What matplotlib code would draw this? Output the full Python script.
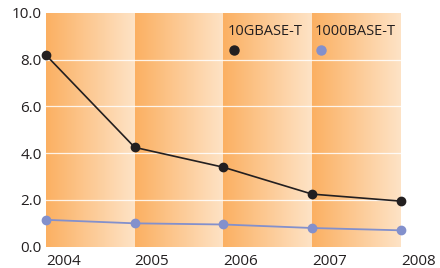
import matplotlib.pyplot as plt
import numpy as np
from matplotlib.colors import LinearSegmentedColormap

years = [2004, 2005, 2006, 2007, 2008]
ten_g = [8.2, 4.25, 3.4, 2.25, 1.95]
one_g = [1.15, 1.0, 0.95, 0.8, 0.7]
y_ticks = [0.0, 2.0, 4.0, 6.0, 8.0, 10.0]

plt.rcParams['font.family'] = ['Open Sans', 'DejaVu Sans']
text_color = "#231f20"

fig = plt.figure(figsize=(4.4, 2.68), dpi=100)
ax = fig.add_axes([0.1045, 0.0795, 0.8065, 0.872])

# orange gradient band per year
band = LinearSegmentedColormap.from_list("band", ["#fbb062", "#fee3c6"])
grad = np.linspace(0, 1, 256).reshape(1, -1)
for y0, y1 in zip(years[:-1], years[1:]):
    ax.imshow(grad, cmap=band, aspect="auto", extent=(y0, y1, 0, 10), zorder=0)

for t in y_ticks[1:-1]:
    ax.axhline(t, color="white", lw=0.9, alpha=0.85, zorder=1)

ax.plot(years, ten_g, color="#231f20", lw=1.2, marker="o", ms=6, zorder=3, clip_on=False)
ax.plot(years, one_g, color="#8390cc", lw=1.3, marker="o", ms=6, zorder=3, clip_on=False)

ax.set_xlim(years[0], years[-1])
ax.set_ylim(0, 10)
ax.set_xticks(years)
ax.set_xticklabels([str(y) for y in years], ha="left")
ax.set_yticks(y_ticks)
ax.set_yticklabels([f"{t:.1f}" for t in y_ticks])
ax.tick_params(length=0, labelsize=11, colors=text_color)
ax.tick_params(axis="y", pad=3)
ax.tick_params(axis="x", pad=5)
for s in ax.spines.values():
    s.set_visible(False)

# legend drawn by hand
ax.text(2006.05, 9.2, "10GBASE-T", fontsize=10.5, color=text_color, va="center")
ax.plot([2006.12], [8.4], "o", color="#231f20", ms=6.5, zorder=3)
ax.text(2007.03, 9.2, "1000BASE-T", fontsize=10.5, color=text_color, va="center")
ax.plot([2007.1], [8.4], "o", color="#8390cc", ms=6.5, zorder=3)

fig.savefig("out.png", dpi=100)
